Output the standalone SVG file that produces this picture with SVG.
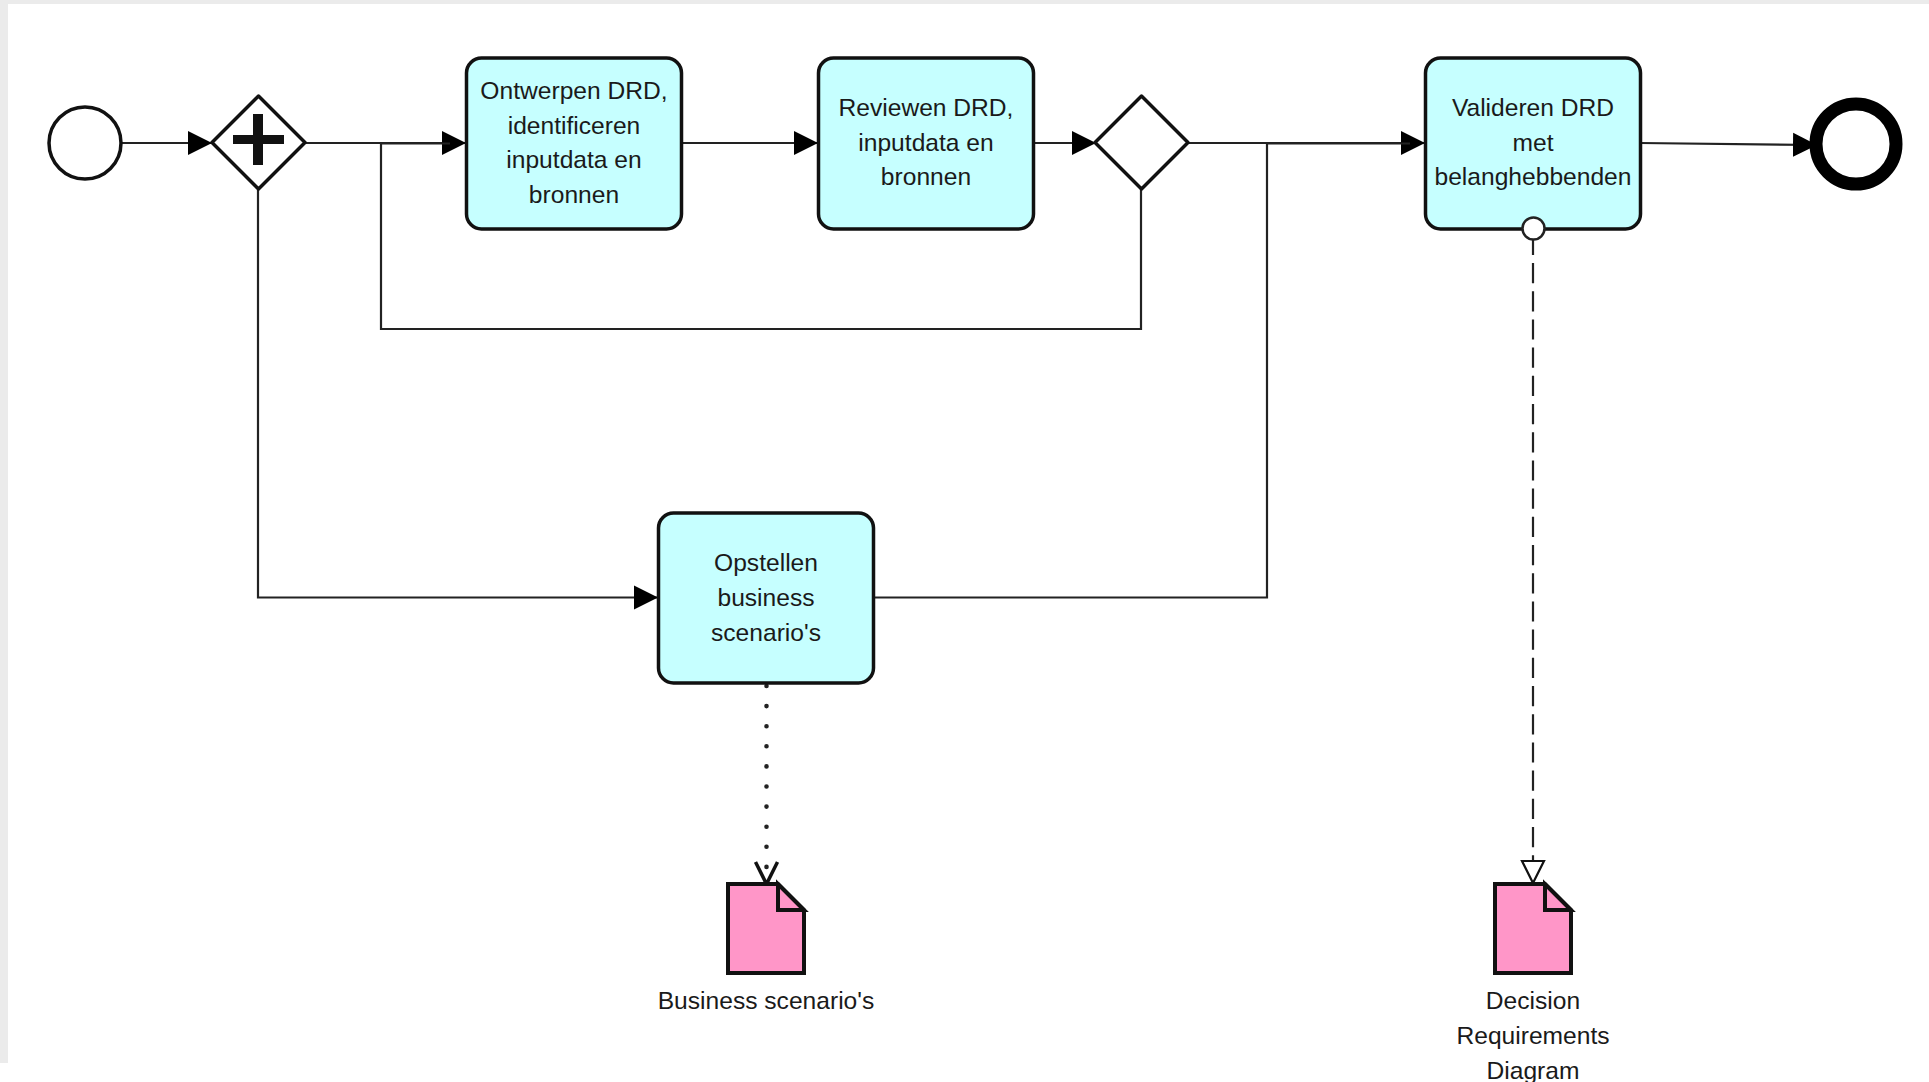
<svg xmlns="http://www.w3.org/2000/svg" width="1929" height="1082" viewBox="0 0 1929 1082">
<style>
.t{font-family:"Liberation Sans",Arial,sans-serif;font-size:24.6px;fill:#1a1a1a;text-anchor:middle}
.task{fill:#c6ffff;stroke:#111;stroke-width:3.5}
.gw{fill:#fff;stroke:#111;stroke-width:3.5;stroke-linejoin:round}
.doc{fill:#ff96c8;stroke:#111;stroke-width:4;stroke-linejoin:miter}
.c{fill:none;stroke:#222;stroke-width:2.2}
</style>
<defs>
<marker id="fill" markerUnits="userSpaceOnUse" markerWidth="26" markerHeight="26" refX="24" refY="13" orient="auto"><path d="M0 1L24 13L0 25Z" fill="#000"/></marker>
<marker id="open" markerUnits="userSpaceOnUse" markerWidth="28" markerHeight="28" refX="24" refY="14" orient="auto"><path d="M2 3L24 14L2 25" fill="none" stroke="#111" stroke-width="3.5"/></marker>
<marker id="hollow" markerUnits="userSpaceOnUse" markerWidth="28" markerHeight="28" refX="24" refY="14" orient="auto"><path d="M2 3L24 14L2 25Z" fill="#fff" stroke="#111" stroke-width="2.2"/></marker>
</defs>
<rect x="0" y="0" width="1929" height="1082" fill="#fff"/>
<path d="M0 0H1929V4H8V1063H0Z" fill="#ebebeb"/>
<g id="connectors">
<path class="c" d="M122 143H212" marker-end="url(#fill)"/>
<path class="c" d="M305 143H466" marker-end="url(#fill)"/>
<path class="c" d="M381 143.500H450" stroke-width="3"/>
<path class="c" d="M682 143H818" marker-end="url(#fill)"/>
<path class="c" d="M1033 143H1096" marker-end="url(#fill)"/>
<path class="c" d="M1188 143H1425" marker-end="url(#fill)"/>
<path class="c" d="M1267 143.500H1410"/>
<path class="c" d="M1640 143L1817 145" marker-end="url(#fill)"/>
<path class="c" d="M1141 189V329H381V143"/>
<path class="c" d="M258 190V597.500H658" marker-end="url(#fill)"/>
<path class="c" d="M875 597.500H1267V143"/>
<path d="M766.500 686V884" fill="none" stroke="#222" stroke-width="4.600" stroke-dasharray="0 20.100" stroke-linecap="round" marker-end="url(#open)"/>
<path d="M1533 234.800V883" fill="none" stroke="#222" stroke-width="2.2" stroke-dasharray="20.200 8" marker-end="url(#hollow)"/>
</g>
<g id="start"><circle cx="85" cy="143" r="36" fill="#fff" stroke="#111" stroke-width="3.5"/></g>
<g id="gateway-parallel"><path class="gw" d="M258.500 96L305 142.500L258.500 189L212 142.500Z"/><path d="M253 114H263V135H284V144H263V165H253V144H233V135H253Z" fill="#111"/></g>
<g id="task-ontwerpen"><rect class="task" x="466.500" y="58" width="215" height="171" rx="15"/>
<text class="t" x="574" y="99">Ontwerpen DRD,</text><text class="t" x="574" y="133.500">identificeren</text><text class="t" x="574" y="168">inputdata en</text><text class="t" x="574" y="203">bronnen</text></g>
<g id="task-reviewen"><rect class="task" x="818.500" y="58" width="215" height="171" rx="15"/>
<text class="t" x="926" y="116">Reviewen DRD,</text><text class="t" x="926" y="150.500">inputdata en</text><text class="t" x="926" y="185">bronnen</text></g>
<g id="gateway-exclusive"><path class="gw" d="M1141.500 96L1188 142.500L1141.500 189L1095 142.500Z"/></g>
<g id="task-valideren"><rect class="task" x="1425.500" y="58" width="215" height="171" rx="15"/>
<text class="t" x="1533" y="116">Valideren DRD</text><text class="t" x="1533" y="150.500">met</text><text class="t" x="1533" y="185">belanghebbenden</text>
<circle cx="1533.500" cy="228.500" r="11" fill="#fff" stroke="#222" stroke-width="2.500"/></g>
<g id="end"><circle cx="1856" cy="144" r="40" fill="#fff" stroke="#000" stroke-width="13"/></g>
<g id="task-opstellen"><rect class="task" x="658.500" y="513" width="215" height="170" rx="15"/>
<text class="t" x="766" y="571">Opstellen</text><text class="t" x="766" y="605.500">business</text><text class="t" x="766" y="641">scenario's</text></g>
<g id="doc-business"><path class="doc" d="M728 884H778L804 910V973H728Z"/><path class="doc" d="M778 884V910H804Z"/>
<text class="t" x="766" y="1009">Business scenario's</text></g>
<g id="doc-drd"><path class="doc" d="M1495 884H1545L1571 910V973H1495Z"/><path class="doc" d="M1545 884V910H1571Z"/>
<text class="t" x="1533" y="1009">Decision</text><text class="t" x="1533" y="1044">Requirements</text><text class="t" x="1533" y="1079">Diagram</text></g>
</svg>
